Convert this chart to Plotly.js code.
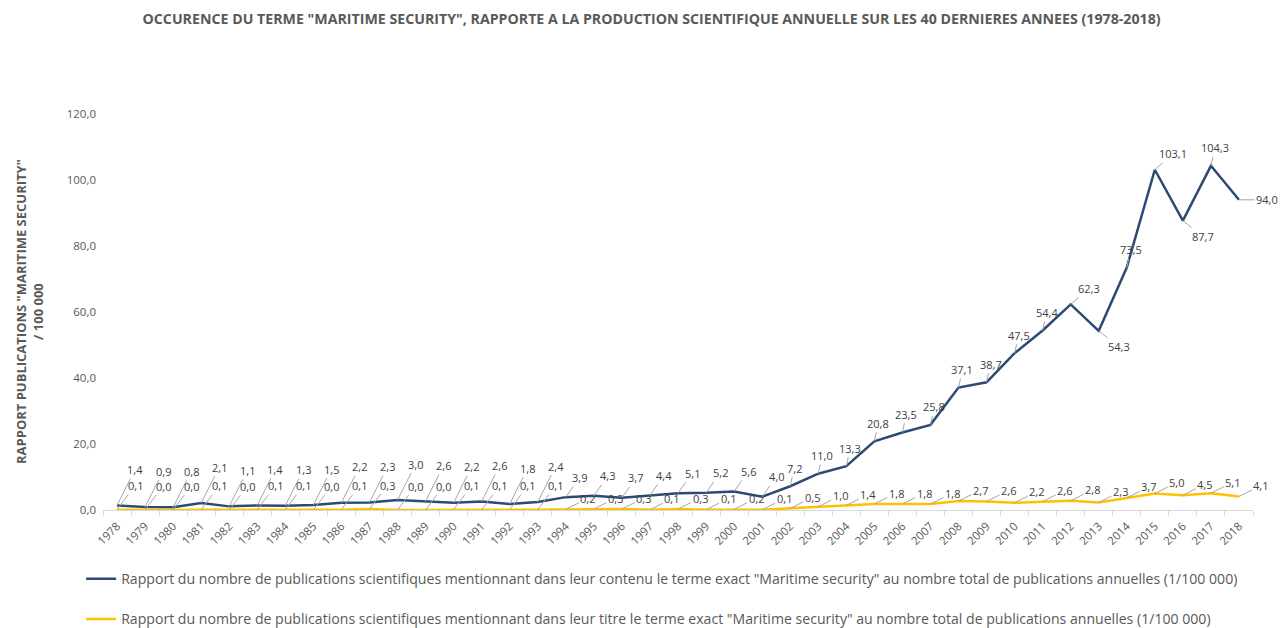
<!DOCTYPE html>
<html><head><meta charset="utf-8">
<script src="https://cdn.plot.ly/plotly-3.0.1.min.js"></script>
<style>html,body{margin:0;padding:0;background:#fff}#chart{width:1280px;height:628px}</style>
</head><body><div id="chart"></div>
<script>
const years = ["1978","1979","1980","1981","1982","1983","1984","1985","1986","1987","1988","1989","1990","1991","1992","1993","1994","1995","1996","1997","1998","1999","2000","2001","2002","2003","2004","2005","2006","2007","2008","2009","2010","2011","2012","2013","2014","2015","2016","2017","2018"];
const contenu = [1.4,0.9,0.8,2.1,1.1,1.4,1.3,1.5,2.2,2.3,3.0,2.6,2.2,2.6,1.8,2.4,3.9,4.3,3.7,4.4,5.1,5.2,5.6,4.0,7.2,11.0,13.3,20.8,23.5,25.8,37.1,38.7,47.5,54.4,62.3,54.3,73.5,103.1,87.7,104.3,94.0];
const titre = [0.1,0.0,0.0,0.1,0.0,0.1,0.1,0.0,0.1,0.3,0.0,0.0,0.1,0.1,0.1,0.1,0.2,0.3,0.3,0.1,0.3,0.1,0.2,0.1,0.5,1.0,1.4,1.8,1.8,1.8,2.7,2.6,2.2,2.6,2.8,2.3,3.7,5.0,4.5,5.1,4.1];
const nameContenu = 'Rapport du nombre de publications scientifiques mentionnant dans leur contenu le terme exact "Maritime security" au nombre total de publications annuelles (1/100 000)';
const nameTitre = 'Rapport du nombre de publications scientifiques mentionnant dans leur titre le terme exact "Maritime security" au nombre total de publications annuelles (1/100 000)';
const chartTitle = 'OCCURENCE DU TERME "MARITIME SECURITY", RAPPORTE A LA PRODUCTION SCIENTIFIQUE ANNUELLE SUR LES 40 DERNIERES ANNEES (1978-2018)';
const yTitle = 'RAPPORT PUBLICATIONS "MARITIME SECURITY"<br>/ 100 000';

const BLUE = '#2c4a72', YELLOW = '#ffc000';
const FONT = 'Open Sans, sans-serif';
const fmt = v => v.toFixed(1).replace('.', ',');

const annotations = [];
function lab(i, y, v, ax, ay) {
  annotations.push({x: i, y: y, xref: 'x', yref: 'y', text: fmt(v), showarrow: true,
    arrowhead: 0, arrowwidth: 1, arrowcolor: '#a6a6a6', standoff: 0, startstandoff: 0,
    ax: ax, ay: ay, font: {family: FONT, size: 11, color: '#404040'}});
}
const n = years.length;
years.forEach((yr, i) => {
  const y = +yr, v = contenu[i];
  let ax, ay;
  if (y <= 1993) { ax = 18; ay = -36; }
  else if (y <= 2001) { ax = 14; ay = -20; }
  else if (i === n - 1) { ax = 28; ay = 0; }
  else if (v < contenu[i - 1] && v < contenu[i + 1]) { ax = 20; ay = 16; }
  else if (v > contenu[i - 1] && v > contenu[i + 1] && contenu[i+1] < v * 0.9) { ax = 18; ay = -16; }
  else { ax = 4; ay = -18; }
  lab(i, v, v, ax, ay);
  const t = titre[i];
  let tx, ty;
  if (y <= 1993) { tx = 18; ty = -24; }
  else { tx = 22; ty = -11; }
  lab(i, t, t, tx, ty);
});

annotations.push({xref: 'paper', yref: 'paper', x: (29 - 103) / 1150, y: 0.5, xanchor: 'center', yanchor: 'middle',
  text: yTitle, showarrow: false, textangle: -90,
  font: {family: FONT, size: 13, color: '#595959', weight: 'bold'}});

const traces = [
  {x: years, y: contenu, type: 'scatter', mode: 'lines', name: nameContenu, legendgroup: 'a',
   line: {color: BLUE, width: 2.5}, hoverinfo: 'skip'},
  {x: years, y: titre, type: 'scatter', mode: 'lines', name: nameTitre, legendgroup: 'b',
   line: {color: YELLOW, width: 2.5}, hoverinfo: 'skip'}
];

const layout = {
  width: 1280, height: 628,
  margin: {l: 103, r: 27, t: 114, b: 118},
  paper_bgcolor: '#fff', plot_bgcolor: '#fff',
  separators: ', ',
  font: {family: FONT, color: '#595959'},
  title: {text: chartTitle, x: 0.477, xref: 'paper', xanchor: 'center', y: 1 - 19 / 628, yref: 'container', yanchor: 'middle',
    font: {family: FONT, size: 14.2, color: '#595959', weight: 'bold'}},
  xaxis: {type: 'category', range: [-0.5, n - 0.5], autorange: false,
    tickangle: -45, showgrid: false, zeroline: false, showline: true, automargin: false,
    linecolor: '#d9d9d9', linewidth: 1, ticks: 'outside', tickson: 'boundaries', ticklen: 5, tickcolor: '#d9d9d9',
    ticklabelstandoff: 4,
    tickfont: {family: FONT, size: 11.5, color: '#595959'}, fixedrange: true},
  yaxis: {range: [0, 120], dtick: 20, tickformat: '.1f', showgrid: false, zeroline: false, showline: false,
    automargin: false, ticks: '', ticklabelstandoff: 6,
    tickfont: {family: FONT, size: 11.5, color: '#595959'}, fixedrange: true},
  showlegend: true,
  legend: {x: -0.019, xanchor: 'left', yref: 'container', y: 1 - 563 / 628, yanchor: 'top', orientation: 'v', tracegroupgap: 19,
    font: {family: FONT, size: 14.1, color: '#595959'}, bgcolor: 'rgba(0,0,0,0)'},
  annotations: annotations
};

Plotly.newPlot('chart', traces, layout, {displayModeBar: false, staticPlot: true});
</script></body></html>
